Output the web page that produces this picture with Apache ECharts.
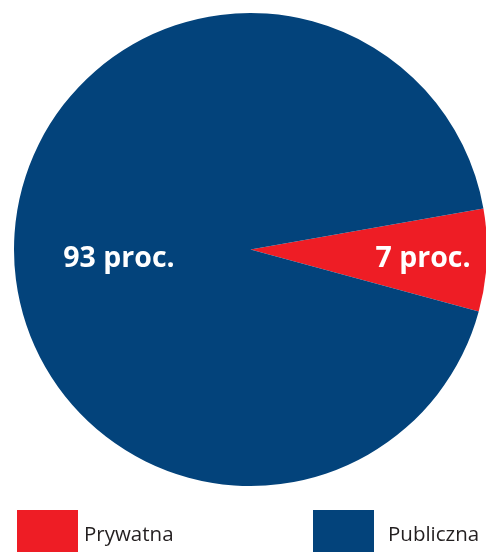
<!DOCTYPE html>
<html>
<head>
<meta charset="utf-8">
<script src="https://cdn.jsdelivr.net/npm/echarts@6/dist/echarts.min.js"></script>
<style>
  html, body { margin: 0; padding: 0; background: #ffffff; }
  #chart { width: 486px; height: 552px; }
</style>
</head>
<body>
<div id="chart"></div>
<script>
// Ownership share, in percent
const categories = ['Prywatna', 'Publiczna'];
const shares = [7, 93];
const colors = ['#ee1d25', '#03437b'];
const labelSuffix = ' proc.';

// Where each slice's label sits (pixel centre)
const labelSpots = [[423, 259], [119, 259]];

const chart = echarts.init(document.getElementById('chart'), null, { renderer: 'canvas' });

const legendBase = {
  top: 510,
  orient: 'horizontal',
  padding: 0,
  itemWidth: 61,
  itemHeight: 42,
  icon: 'rect',
  selectedMode: false,
  formatter: '{t|{name}}'
};

function legendText(leftPad) {
  return {
    fontFamily: 'Open Sans',
    fontSize: 20.5,
    color: '#231f20',
    rich: {
      t: {
        fontFamily: 'Open Sans',
        fontSize: 20.5,
        color: '#231f20',
        padding: [8, 0, 0, leftPad]
      }
    }
  };
}

chart.setOption({
  animation: false,
  legend: [
    Object.assign({}, legendBase, {
      left: 17,
      data: [categories[0]],
      textStyle: legendText(1)
    }),
    Object.assign({}, legendBase, {
      left: 313,
      data: [categories[1]],
      textStyle: legendText(9)
    })
  ],
  series: [{
    type: 'pie',
    center: [250.5, 249.5],
    radius: 236.5,
    startAngle: 10,
    clockwise: true,
    silent: true,
    itemStyle: { borderWidth: 0 },
    label: {
      show: true,
      position: 'inside',
      formatter: p => p.value + labelSuffix,
      color: '#ffffff',
      fontFamily: 'Open Sans',
      fontWeight: 'bold',
      fontSize: 28.5
    },
    labelLine: { show: false },
    labelLayout: p => ({
      x: labelSpots[p.dataIndex][0],
      y: labelSpots[p.dataIndex][1],
      align: 'center',
      verticalAlign: 'middle'
    }),
    data: categories.map((name, i) => ({
      name: name,
      value: shares[i],
      itemStyle: { color: colors[i] }
    }))
  }]
});
</script>
</body>
</html>
